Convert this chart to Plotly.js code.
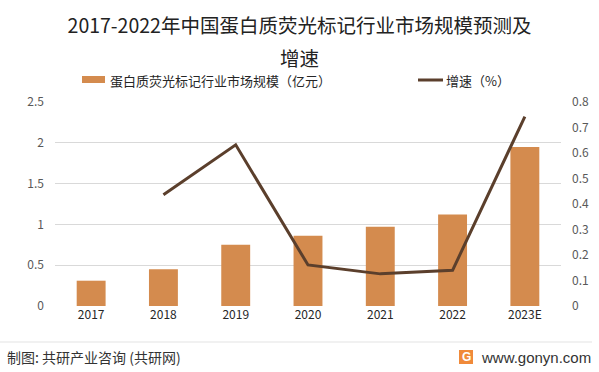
<!DOCTYPE html>
<html>
<head>
<meta charset="utf-8">
<script src="https://cdn.plot.ly/plotly-3.0.1.min.js"></script>
<style>html,body{margin:0;padding:0;background:#fff}#chart{width:599px;height:372px}</style>
</head>
<body>
<div id="chart"></div>
<script>
var categories = ["2017", "2018", "2019", "2020", "2021", "2022", "2023E"];
var marketSize = [0.31, 0.45, 0.75, 0.86, 0.97, 1.12, 1.95];
var growthRate = [null, 0.436, 0.632, 0.161, 0.126, 0.14, 0.743];
var barName = "蛋白质荧光标记行业市场规模（亿元）";
var lineName = "增速（%）";
var leftTicks = [0, 0.5, 1, 1.5, 2, 2.5];
var rightTicks = [0, 0.1, 0.2, 0.3, 0.4, 0.5, 0.6, 0.7, 0.8];

var FONT = '"Noto Sans CJK SC", "Noto Sans", sans-serif';
var BAR_COLOR = "#d48b4e";
var LINE_COLOR = "#5b3f2c";

// pixel -> paper helpers (plot area: x 55..561, y 102..306)
function px(x) { return (x - 55) / 506; }
function py(y) { return (306 - y) / 204; }

var traces = [
  {
    type: "bar", name: barName, x: categories, y: marketSize,
    marker: {color: BAR_COLOR}, yaxis: "y", showlegend: false
  },
  {
    type: "scatter", mode: "lines", name: lineName, x: categories, y: growthRate,
    line: {color: LINE_COLOR, width: 3}, yaxis: "y2", connectgaps: false, showlegend: false
  }
];

var layout = {
  width: 599, height: 372,
  margin: {l: 55, r: 38, t: 102, b: 66},
  paper_bgcolor: "#fff", plot_bgcolor: "#fff",
  font: {family: FONT, color: "#595959", size: 12},
  title: {
    text: "2017-2022年中国蛋白质荧光标记行业市场规模预测及",
    font: {family: FONT, size: 19.5, color: "#222"},
    x: 0.5, xref: "container", y: 1 - 26/372, yref: "container", yanchor: "middle"
  },
  bargap: 0.6,
  showlegend: false,
  xaxis: {
    type: "category", showgrid: false, zeroline: false, showline: false,
    ticks: "", tickfont: {size: 12, color: "#262626"}
  },
  yaxis: {
    range: [0, 2.5], tickvals: leftTicks, ticktext: leftTicks.map(String),
    showgrid: true, gridcolor: "#d9d9d9", gridwidth: 1, zeroline: false, showline: false,
    ticks: "", ticklabelstandoff: 10, tickfont: {size: 12, color: "#595959"}
  },
  yaxis2: {
    range: [0, 0.8], tickvals: rightTicks, ticktext: rightTicks.map(String),
    overlaying: "y", side: "right", showgrid: false, zeroline: false, showline: false,
    ticks: "", ticklabelstandoff: 10, tickfont: {size: 12, color: "#595959"}
  },
  shapes: [
    // legend symbols
    {type: "rect", xref: "paper", yref: "paper", x0: px(82), x1: px(105),
     y0: py(83), y1: py(76), fillcolor: BAR_COLOR, line: {width: 0}},
    {type: "line", xref: "paper", yref: "paper", x0: px(418), x1: px(443),
     y0: py(80), y1: py(80), line: {color: LINE_COLOR, width: 3}},
    // footer separator
    {type: "line", xref: "paper", yref: "paper", x0: px(0), x1: px(592),
     y0: py(342), y1: py(342), line: {color: "#e3e3e3", width: 1}},
    // logo
    {type: "rect", xref: "paper", yref: "paper", x0: px(459), x1: px(473),
     y0: py(364), y1: py(350), fillcolor: "#f08a3a", line: {width: 0}}
  ],
  annotations: [
    {xref: "paper", yref: "paper", x: px(299), y: py(57.5), text: "增速",
     showarrow: false, xanchor: "center", yanchor: "middle",
     font: {family: FONT, size: 19.5, color: "#222"}},
    {xref: "paper", yref: "paper", x: px(108), y: py(80.5), text: barName,
     showarrow: false, xanchor: "left", yanchor: "middle",
     font: {family: FONT, size: 13, color: "#262626"}},
    {xref: "paper", yref: "paper", x: px(444), y: py(80.5), text: lineName,
     showarrow: false, xanchor: "left", yanchor: "middle",
     font: {family: FONT, size: 13, color: "#262626"}},
    {xref: "paper", yref: "paper", x: px(5), y: py(357), text: "制图: 共研产业咨询 (共研网)",
     showarrow: false, xanchor: "left", yanchor: "middle",
     font: {family: FONT, size: 14, color: "#333"}},
    {xref: "paper", yref: "paper", x: px(466), y: py(357), text: "<b>G</b>",
     showarrow: false, xanchor: "center", yanchor: "middle",
     font: {family: "Liberation Sans, Arial", size: 12, color: "#fff"}},
    {xref: "paper", yref: "paper", x: px(479), y: py(357), text: "www.gonyn.com",
     showarrow: false, xanchor: "left", yanchor: "middle",
     font: {family: "Liberation Sans, Arial, sans-serif", size: 15, color: "#333"}}
  ]
};

Plotly.newPlot("chart", traces, layout, {displayModeBar: false, staticPlot: true});
</script>
</body>
</html>
